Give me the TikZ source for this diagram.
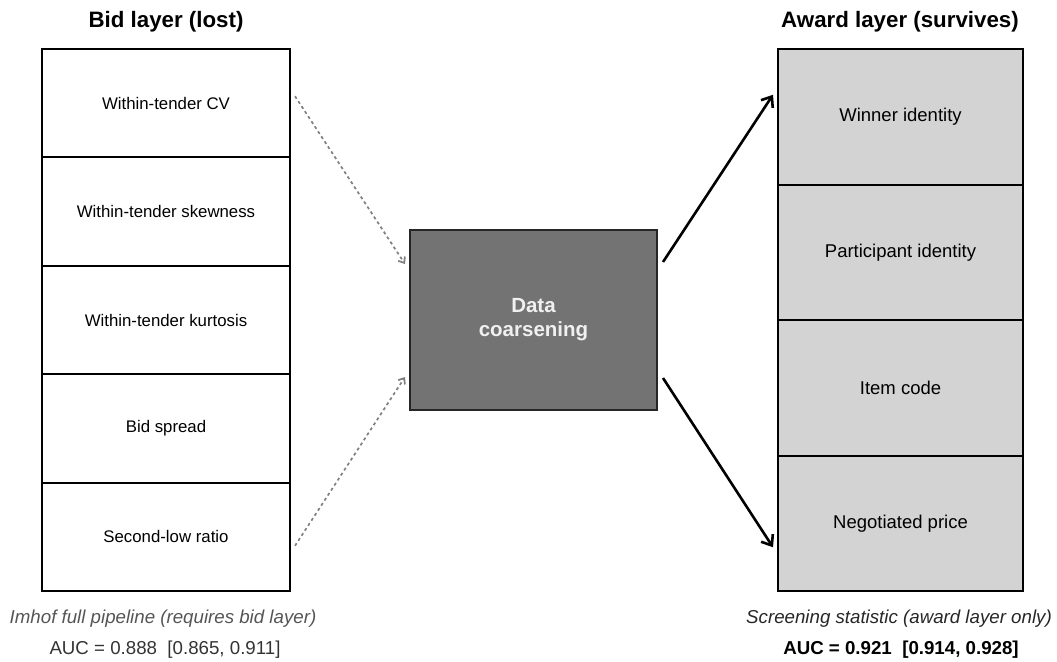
\documentclass[tikz,border=0pt]{standalone}
\usepackage{fontspec}
\setmainfont{Liberation Sans}
\usepackage{xcolor}
\usetikzlibrary{arrows.meta}
\definecolor{grisclair}{HTML}{D3D3D3}
\definecolor{grisfonce}{HTML}{737373}
\definecolor{grispointille}{HTML}{808080}
\definecolor{gristexte}{HTML}{555555}

\begin{document}
\begin{tikzpicture}[x=1pt,y=-1pt]
% Styles
\tikzstyle{cellule}=[draw,line width=2pt,inner sep=0pt,minimum width=248pt]
\tikzstyle{celluleG}=[cellule,fill=white,minimum height=108.4pt,font=\fontsize{16.8}{20}\selectfont]
\tikzstyle{celluleD}=[cellule,fill=grisclair,minimum width=245pt,minimum height=135.5pt,font=\fontsize{18.5}{22}\selectfont]
\tikzstyle{centre}=[draw=black!85,line width=2pt,fill=grisfonce,minimum width=247pt,minimum height=180pt,align=center,text=white!94!black,font=\bfseries\fontsize{20.5}{24}\selectfont]
\tikzstyle{titre}=[font=\bfseries\fontsize{22.3}{26}\selectfont]
\tikzstyle{legende}=[font=\itshape\fontsize{18.7}{22}\selectfont]
\tikzstyle{score}=[font=\fontsize{18.7}{22}\selectfont]
\tikzstyle{perdu}=[-{Straight Barb[length=5pt,width=8pt]},draw=grispointille,line width=1.7pt,dash pattern=on 3pt off 3pt]
\tikzstyle{garde}=[-{Straight Barb[length=9pt,width=14pt]},line width=2.6pt]
% Dimensions
\useasboundingbox (0,0) rectangle (1057,661);
\def\ColG{166}
\def\ColD{900.5}
\def\Haut{49}
\def\PasG{108.4}
\def\PasD{135.5}
% Noeuds
\node[titre] (titreG) at (\ColG,22) {Bid layer (lost)};
\node[titre] (titreD) at (900,22) {Award layer (survives)};
\node[celluleG] (cv) at ({\ColG},{\Haut+0.5*\PasG}) {Within-tender CV};
\node[celluleG] (skew) at ({\ColG},{\Haut+1.5*\PasG}) {Within-tender skewness};
\node[celluleG] (kurt) at ({\ColG},{\Haut+2.5*\PasG}) {Within-tender kurtosis};
\node[celluleG] (spread) at ({\ColG},{\Haut+3.5*\PasG}) {Bid spread};
\node[celluleG] (ratio) at ({\ColG},{\Haut+4.5*\PasG}) {Second-low ratio};
\node[centre] (coarse) at (533.5,320) {Data\\coarsening};
\node[celluleD] (winner) at ({\ColD},{\Haut+0.5*\PasD}) {Winner identity};
\node[celluleD] (part) at ({\ColD},{\Haut+1.5*\PasD}) {Participant identity};
\node[celluleD] (item) at ({\ColD},{\Haut+2.5*\PasD}) {Item code};
\node[celluleD] (price) at ({\ColD},{\Haut+3.5*\PasD}) {Negotiated price};
\node[legende,text=gristexte] (legG) at (163,619) {Imhof full pipeline (requires bid layer)};
\node[score,text=black!80] (aucG) at (165,650) {AUC = 0.888\ \ [0.865, 0.911]};
\node[legende,text=black!85] (legD) at (899,619) {Screening statistic (award layer only)};
\node[score,font=\bfseries\fontsize{18.7}{22}\selectfont] (aucD) at (901,650) {AUC = 0.921\ \ [0.914, 0.928]};
% Extremites des arcs
\coordinate (cvout) at ([xshift=4pt,yshift=7pt]cv.east);
\coordinate (ratioout) at ([xshift=4pt,yshift=-9pt]ratio.east);
\coordinate (coarsehaut) at ([xshift=-4pt,yshift=-35pt]coarse.north west);
\coordinate (coarsebas) at ([xshift=-4pt,yshift=34pt]coarse.south west);
\coordinate (sortiehaut) at ([xshift=5pt,yshift=-33pt]coarse.north east);
\coordinate (sortiebas) at ([xshift=5pt,yshift=33pt]coarse.south east);
\coordinate (winnerin) at ([xshift=-4pt,yshift=22pt]winner.west);
\coordinate (pricein) at ([xshift=-4pt,yshift=-24pt]price.west);
% Arcs
\draw[perdu] (cvout)--(coarsehaut);
\draw[perdu] (ratioout)--(coarsebas);
\draw[garde] (sortiehaut)--(winnerin);
\draw[garde] (sortiebas)--(pricein);
\end{tikzpicture}
\end{document}
